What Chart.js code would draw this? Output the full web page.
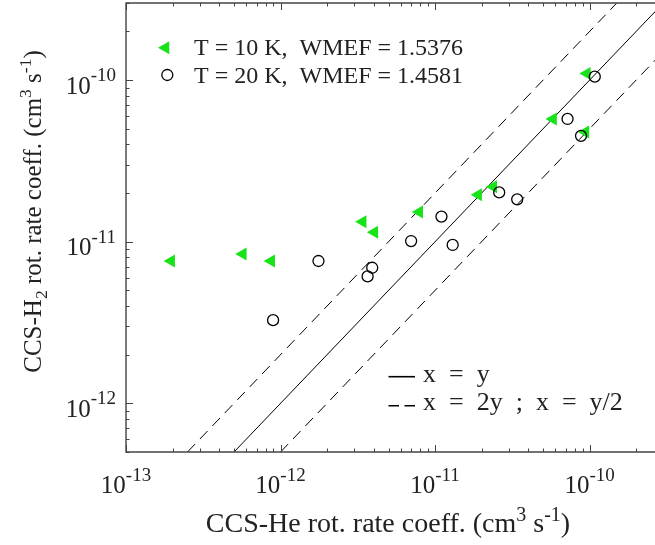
<!DOCTYPE html>
<html>
<head>
<meta charset="utf-8">
<script src="https://cdn.jsdelivr.net/npm/chart.js@4.4.0/dist/chart.umd.min.js"></script>
<style>
  body { margin: 0; background: #fff; }
  canvas { display: block; }
</style>
</head>
<body>
<canvas id="rateChart" width="655" height="545"></canvas>
<script>
// CCS-He vs CCS-H2 rate coefficients (cm^3 s^-1)
const t10He = [9.6e-11, 5.8e-11, 9.4e-11, 2.38e-11, 1.9e-11, 7.9e-12, 3.4e-12, 4.05e-12, 1.96e-13, 5.7e-13, 8.7e-13];
const t10H2 = [1.1e-10, 5.75e-11, 4.77e-11, 2.19e-11, 1.95e-11, 1.53e-11, 1.33e-11, 1.145e-11, 7.6e-12, 8.4e-12, 7.6e-12];

const t20He = [1.08e-10, 7.2e-11, 8.8e-11, 2.6e-11, 3.4e-11, 1.1e-11, 7.0e-12, 1.3e-11, 1.76e-12, 3.92e-12, 3.66e-12, 8.95e-13];
const t20H2 = [1.05e-10, 5.75e-11, 4.52e-11, 2.02e-11, 1.83e-11, 1.43e-11, 1.01e-11, 9.55e-12, 7.6e-12, 6.9e-12, 6.1e-12, 3.27e-12];

// reference lines, end points
const eqX = [5e-13, 3e-10];
const eqY = [5e-13, 3e-10];
const upX = [2.5e-13, 1.5e-10];   // x = y/2
const upY = [5e-13, 3e-10];
const loX = [1e-12, 6e-10];       // x = 2y
const loY = [5e-13, 3e-10];

const xDecades = [-13, -12, -11, -10];
const yDecades = [-12, -11, -10];

const FONT = '"Liberation Serif", "Times New Roman", serif';
const TXT = '#222';
const GREEN = 'rgb(24, 226, 24)';

function pts(xs, ys) {
    return xs.map((x, i) => ({ x: x, y: ys[i] }));
}

function richWidth(ctx, parts) {
    let w = 0;
    parts.forEach(p => {
        ctx.font = p.size + 'px ' + FONT;
        w += ctx.measureText(p.t).width;
    });
    return w;
}

function drawRich(ctx, parts, x, y, align) {
    const w = richWidth(ctx, parts);
    let cx = x;
    if (align === 'center') cx = x - w / 2;
    if (align === 'right') cx = x - w;
    ctx.textAlign = 'left';
    ctx.textBaseline = 'alphabetic';
    parts.forEach(p => {
        ctx.font = p.size + 'px ' + FONT;
        ctx.fillText(p.t, cx, y + (p.dy || 0));
        cx += ctx.measureText(p.t).width;
    });
}

function powLabel(d) {
    return [{ t: '10', size: 25 }, { t: String(d), size: 19, dy: -12.5 }];
}

// frame, inward ticks, tick labels, titles and legends
const decorPlugin = {
    id: 'decor',
    afterDraw(chart) {
        const ctx = chart.ctx;
        const a = chart.chartArea;
        const xs = chart.scales.x;
        const ys = chart.scales.y;
        ctx.save();

        // frame
        ctx.strokeStyle = '#444';
        ctx.lineWidth = 1.4;
        ctx.beginPath();
        ctx.moveTo(a.right, a.top);
        ctx.lineTo(a.left, a.top);
        ctx.lineTo(a.left, a.bottom);
        ctx.lineTo(a.right, a.bottom);
        ctx.stroke();

        // x ticks (bottom and top)
        ctx.lineWidth = 1;
        ctx.beginPath();
        xDecades.forEach(d => {
            for (let m = 1; m <= 9; m++) {
                const v = m * Math.pow(10, d);
                if (v < xs.min || v > xs.max) continue;
                const px = Math.round(xs.getPixelForValue(v)) + 0.5;
                const len = m === 1 ? 7 : 3.5;
                ctx.moveTo(px, a.bottom);
                ctx.lineTo(px, a.bottom - len);
                ctx.moveTo(px, a.top);
                ctx.lineTo(px, a.top + len);
            }
        });
        // y ticks (left)
        [-13].concat(yDecades).forEach(d => {
            for (let m = 1; m <= 9; m++) {
                const v = m * Math.pow(10, d);
                if (v < ys.min || v > ys.max) continue;
                const py = Math.round(ys.getPixelForValue(v)) + 0.5;
                const len = m === 1 ? 7 : 3.5;
                ctx.moveTo(a.left, py);
                ctx.lineTo(a.left + len, py);
            }
        });
        ctx.stroke();

        // tick labels
        ctx.fillStyle = TXT;
        xDecades.forEach(d => {
            const px = xs.getPixelForValue(Math.pow(10, d));
            drawRich(ctx, powLabel(d), px, a.bottom + 41, 'center');
        });
        yDecades.forEach(d => {
            const py = ys.getPixelForValue(Math.pow(10, d));
            drawRich(ctx, powLabel(d), a.left - 10, py + 13.5, 'right');
        });

        // axis titles
        drawRich(ctx, [
            { t: 'CCS-He rot. rate coeff. (cm', size: 28 },
            { t: '3', size: 20, dy: -11.5 },
            { t: ' s', size: 28 },
            { t: '-1', size: 20, dy: -11.5 },
            { t: ')', size: 28 }
        ], 388, 532, 'center');

        ctx.save();
        ctx.translate(41, 211.5);
        ctx.rotate(-Math.PI / 2);
        drawRich(ctx, [
            { t: 'CCS-H', size: 25 },
            { t: '2', size: 17.5, dy: 6 },
            { t: ' rot. rate coeff. (cm', size: 25 },
            { t: '3', size: 17.5, dy: -10 },
            { t: ' s', size: 25 },
            { t: '-1', size: 17.5, dy: -10 },
            { t: ')', size: 25 }
        ], 0, 0, 'center');
        ctx.restore();

        // legend: markers
        ctx.fillStyle = GREEN;
        ctx.beginPath();
        const tr = 7.5, tx = 165.5, ty = 47.7;
        ctx.moveTo(tx - tr, ty);
        ctx.lineTo(tx + tr / 2, ty - tr * Math.sqrt(3) / 2);
        ctx.lineTo(tx + tr / 2, ty + tr * Math.sqrt(3) / 2);
        ctx.closePath();
        ctx.fill();
        ctx.strokeStyle = '#000';
        ctx.lineWidth = 1.3;
        ctx.beginPath();
        ctx.arc(167.3, 75, 5.5, 0, Math.PI * 2);
        ctx.stroke();

        ctx.fillStyle = TXT;
        ctx.font = '24px ' + FONT;
        ctx.textAlign = 'left';
        ctx.fillText('T = 10 K,  WMEF = 1.5376', 194, 55);
        ctx.fillText('T = 20 K,  WMEF = 1.4581', 194, 83);

        // legend: lines
        ctx.strokeStyle = '#000';
        ctx.lineWidth = 1.6;
        ctx.beginPath();
        ctx.moveTo(388.5, 376.7);
        ctx.lineTo(415, 376.7);
        ctx.stroke();
        ctx.setLineDash([10.5, 5.5]);
        ctx.beginPath();
        ctx.moveTo(388.5, 405.7);
        ctx.lineTo(415, 405.7);
        ctx.stroke();
        ctx.setLineDash([]);
        ctx.font = '26px ' + FONT;
        ctx.fillText('x  =  y', 423, 382);
        ctx.fillText('x  =  2y  ;  x  =  y/2', 423, 410);

        ctx.restore();
    }
};

const refLine = {
    type: 'line',
    showLine: true,
    pointRadius: 0,
    borderColor: '#000',
    borderWidth: 1,
    fill: false
};

new Chart(document.getElementById('rateChart').getContext('2d'), {
    type: 'scatter',
    data: {
        datasets: [
            {
                label: 'T = 20 K',
                data: pts(t20He, t20H2),
                pointStyle: 'circle',
                pointRadius: 5.5,
                borderColor: '#000',
                borderWidth: 1.3,
                backgroundColor: 'rgba(0,0,0,0)'
            },
            {
                label: 'T = 10 K',
                data: pts(t10He, t10H2),
                pointStyle: 'triangle',
                rotation: -90,
                pointRadius: 7.5,
                borderWidth: 0,
                borderColor: GREEN,
                backgroundColor: GREEN
            },
            Object.assign({ label: 'x = y', data: pts(eqX, eqY) }, refLine),
            Object.assign({ label: 'x = y/2', data: pts(upX, upY), borderDash: [11, 7] }, refLine),
            Object.assign({ label: 'x = 2y', data: pts(loX, loY), borderDash: [11, 7] }, refLine)
        ]
    },
    options: {
        responsive: false,
        animation: false,
        devicePixelRatio: 1,
        events: [],
        layout: { autoPadding: false, padding: { top: 3, left: 0, right: 0, bottom: 0 } },
        plugins: {
            legend: { display: false },
            tooltip: { enabled: false }
        },
        scales: {
            x: {
                type: 'logarithmic',
                min: 1e-13,
                max: 2.65e-10,
                ticks: { display: false },
                grid: { display: false },
                border: { display: false },
                afterFit: function(s) { s.height = 93; }
            },
            y: {
                type: 'logarithmic',
                min: 5e-13,
                max: 3e-10,
                ticks: { display: false },
                grid: { display: false },
                border: { display: false },
                afterFit: function(s) { s.width = 126; }
            }
        }
    },
    plugins: [decorPlugin]
});
</script>
</body>
</html>
